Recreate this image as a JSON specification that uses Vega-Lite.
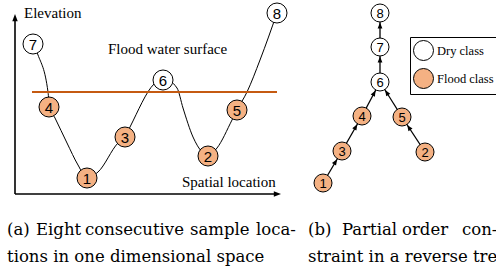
{
  "$schema": "https://vega.github.io/schema/vega-lite/v6.json",
  "width": 496,
  "height": 272,
  "padding": 0,
  "autosize": {"type": "none"},
  "background": "white",
  "config": {"view": {"stroke": null}},
  "datasets": {
    "nodes": [
      {"id": "1", "panel": "a", "x": 87, "y": 178, "cls": "Flood class"},
      {"id": "2", "panel": "a", "x": 208, "y": 156, "cls": "Flood class"},
      {"id": "3", "panel": "a", "x": 125, "y": 137, "cls": "Flood class"},
      {"id": "4", "panel": "a", "x": 49, "y": 107, "cls": "Flood class"},
      {"id": "5", "panel": "a", "x": 237, "y": 110, "cls": "Flood class"},
      {"id": "6", "panel": "a", "x": 163, "y": 80, "cls": "Dry class"},
      {"id": "7", "panel": "a", "x": 33, "y": 44, "cls": "Dry class"},
      {"id": "8", "panel": "a", "x": 277, "y": 13, "cls": "Dry class"},
      {"id": "1", "panel": "b", "x": 323, "y": 183, "cls": "Flood class"},
      {"id": "2", "panel": "b", "x": 425, "y": 152, "cls": "Flood class"},
      {"id": "3", "panel": "b", "x": 342, "y": 151, "cls": "Flood class"},
      {"id": "4", "panel": "b", "x": 362, "y": 116, "cls": "Flood class"},
      {"id": "5", "panel": "b", "x": 402, "y": 117, "cls": "Flood class"},
      {"id": "6", "panel": "b", "x": 380, "y": 82, "cls": "Dry class"},
      {"id": "7", "panel": "b", "x": 380, "y": 47, "cls": "Dry class"},
      {"id": "8", "panel": "b", "x": 380, "y": 13, "cls": "Dry class"}
    ],
    "curve": [
      {"x": 33, "y": 44}, {"x": 38, "y": 55}, {"x": 48, "y": 92}, {"x": 49.5, "y": 107},
      {"x": 55, "y": 118}, {"x": 67, "y": 143}, {"x": 78, "y": 165}, {"x": 87, "y": 178},
      {"x": 98, "y": 172}, {"x": 118, "y": 143}, {"x": 125, "y": 137}, {"x": 130, "y": 127},
      {"x": 154, "y": 84}, {"x": 163, "y": 78}, {"x": 177, "y": 88}, {"x": 183, "y": 108},
      {"x": 193, "y": 137}, {"x": 202, "y": 152}, {"x": 208, "y": 156}, {"x": 217, "y": 148},
      {"x": 232, "y": 120}, {"x": 237, "y": 110}, {"x": 247, "y": 92}, {"x": 260, "y": 60},
      {"x": 277, "y": 13}
    ],
    "edges": [
      {"x": 380, "y": 47, "x2": 380, "y2": 13},
      {"x": 380, "y": 82, "x2": 380, "y2": 47},
      {"x": 362, "y": 116, "x2": 380, "y2": 82},
      {"x": 402, "y": 117, "x2": 380, "y2": 82},
      {"x": 342, "y": 151, "x2": 362, "y2": 116},
      {"x": 425, "y": 152, "x2": 402, "y2": 117},
      {"x": 323, "y": 183, "x2": 342, "y2": 151}
    ],
    "heads": [
      {"kind": "tree", "x": 380, "y": 22.5, "angle": 0},
      {"kind": "tree", "x": 380, "y": 56.5, "angle": 0},
      {"kind": "tree", "x": 375.6, "y": 90.4, "angle": 28},
      {"kind": "tree", "x": 385.1, "y": 90, "angle": -32},
      {"kind": "tree", "x": 357.3, "y": 124.2, "angle": 30},
      {"kind": "tree", "x": 407.2, "y": 124.9, "angle": -33},
      {"kind": "tree", "x": 337.1, "y": 159.2, "angle": 31},
      {"kind": "axis", "x": 15, "y": 14, "angle": 0},
      {"kind": "axis", "x": 281, "y": 194, "angle": 90}
    ],
    "axes": [
      {"x": 15, "y": 194, "x2": 15, "y2": 20},
      {"x": 15, "y": 194, "x2": 275, "y2": 194}
    ],
    "water": [{"x": 32, "y": 92, "x2": 277}],
    "labels": [
      {"g": "lab", "t": "Elevation", "x": 24, "y": 18},
      {"g": "lab", "t": "Flood water surface", "x": 108, "y": 54},
      {"g": "lab", "t": "Spatial location", "x": 182, "y": 187},
      {"g": "cap", "t": "(a)", "x": 7, "y": 235},
      {"g": "cap", "t": "Eight", "x": 36, "y": 235},
      {"g": "cap", "t": "consecutive", "x": 85, "y": 235},
      {"g": "cap", "t": "sample", "x": 190, "y": 235},
      {"g": "cap", "t": "loca-", "x": 256, "y": 235},
      {"g": "cap", "t": "tions in one dimensional space", "x": 7, "y": 262},
      {"g": "cap", "t": "(b)", "x": 308, "y": 235},
      {"g": "cap", "t": "Partial", "x": 342, "y": 235},
      {"g": "cap", "t": "order", "x": 402, "y": 235},
      {"g": "cap", "t": "con-", "x": 462, "y": 235},
      {"g": "cap", "t": "straint in a reverse tree", "x": 308, "y": 262}
    ]
  },
  "encoding": {
    "x": {"field": "x", "type": "quantitative", "scale": {"domain": [0, 496], "nice": false, "zero": false}, "axis": null},
    "y": {"field": "y", "type": "quantitative", "scale": {"domain": [0, 272], "nice": false, "zero": false, "reverse": true}, "axis": null}
  },
  "layer": [
    {
      "data": {"name": "curve"},
      "mark": {"type": "line", "color": "black", "strokeWidth": 1, "interpolate": "monotone"},
      "encoding": {}
    },
    {
      "data": {"name": "water"},
      "mark": {"type": "rule", "color": "#C55A11", "strokeWidth": 2.2},
      "encoding": {"x2": {"field": "x2"}}
    },
    {
      "data": {"name": "axes"},
      "mark": {"type": "rule", "color": "black", "strokeWidth": 1.6},
      "encoding": {"x2": {"field": "x2"}, "y2": {"field": "y2"}}
    },
    {
      "data": {"name": "edges"},
      "mark": {"type": "rule", "color": "black", "strokeWidth": 1.3},
      "encoding": {"x2": {"field": "x2"}, "y2": {"field": "y2"}}
    },
    {
      "data": {"name": "heads"},
      "transform": [{"filter": "datum.kind == 'tree'"}],
      "mark": {"type": "point", "shape": "M0,0L0.6,1.5L-0.6,1.5Z", "filled": true, "color": "black", "opacity": 1, "size": 64},
      "encoding": {"angle": {"field": "angle", "type": "quantitative", "scale": null}}
    },
    {
      "data": {"name": "heads"},
      "transform": [{"filter": "datum.kind == 'axis'"}],
      "mark": {"type": "point", "shape": "M0,0L0.6,1.6L-0.6,1.6Z", "filled": true, "color": "black", "opacity": 1, "size": 81},
      "encoding": {"angle": {"field": "angle", "type": "quantitative", "scale": null}}
    },
    {
      "data": {"name": "nodes"},
      "transform": [{"filter": "datum.panel == 'a'"}],
      "mark": {"type": "point", "shape": "circle", "filled": true, "stroke": "black", "strokeWidth": 1, "opacity": 1, "size": 400},
      "encoding": {
        "color": {
          "field": "cls", "type": "nominal",
          "scale": {"domain": ["Dry class", "Flood class"], "range": ["#FFFFFF", "#F4B183"]},
          "legend": {
            "orient": "none", "legendX": 410, "legendY": 37, "title": null,
            "strokeColor": "black", "fillColor": "white", "padding": 3,
            "symbolType": "circle", "symbolSize": 400, "symbolStrokeColor": "black", "symbolStrokeWidth": 1,
            "labelFont": "Liberation Serif", "labelFontSize": 12.5, "labelColor": "black",
            "rowPadding": 3, "labelOffset": 3
          }
        }
      }
    },
    {
      "data": {"name": "nodes"},
      "transform": [{"filter": "datum.panel == 'b'"}],
      "mark": {"type": "point", "shape": "circle", "filled": true, "stroke": "black", "strokeWidth": 1, "opacity": 1, "size": 324},
      "encoding": {"color": {"field": "cls", "type": "nominal"}}
    },
    {
      "data": {"name": "nodes"},
      "transform": [{"filter": "datum.panel == 'a'"}],
      "mark": {"type": "text", "font": "Liberation Sans", "fontSize": 15, "color": "black", "align": "center", "baseline": "middle", "dy": 1},
      "encoding": {"text": {"field": "id"}}
    },
    {
      "data": {"name": "nodes"},
      "transform": [{"filter": "datum.panel == 'b'"}],
      "mark": {"type": "text", "font": "Liberation Sans", "fontSize": 13, "color": "black", "align": "center", "baseline": "middle", "dy": 1},
      "encoding": {"text": {"field": "id"}}
    },
    {
      "data": {"name": "labels"},
      "transform": [{"filter": "datum.g == 'lab'"}],
      "mark": {"type": "text", "font": "Liberation Serif", "fontSize": 15, "color": "black", "align": "left", "baseline": "alphabetic"},
      "encoding": {"text": {"field": "t"}}
    },
    {
      "data": {"name": "labels"},
      "transform": [{"filter": "datum.g == 'cap'"}],
      "mark": {"type": "text", "font": "DejaVu Serif", "fontSize": 16.5, "color": "black", "align": "left", "baseline": "alphabetic", "clip": true},
      "encoding": {"text": {"field": "t"}}
    }
  ]
}
